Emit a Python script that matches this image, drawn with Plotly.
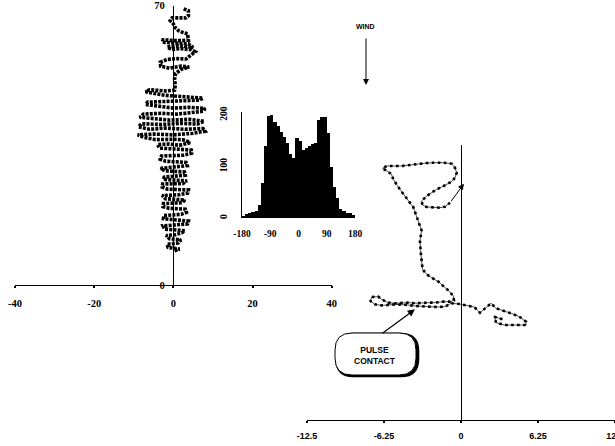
import plotly.graph_objects as go

W, H = 615, 446

# ---------------- data ----------------
# Left panel: flight track (x, y)
left_x = [0.3, 1.6, -1.3, -1.6, 1.2, 1.9, -1.0, -1.8, 0.5, 2.2,
          2.9, -2.2, -2.6, 1.0, 3.6, 3.8, -0.5, -2.5, -2.4, 2.0, 3.3,
          3.0, -1.0, -2.6, -2.5, 2.2, 2.9, -2.0, -2.8, 1.5, 3.6,
          3.8, -1.5, -2.8, -2.7, 2.4, 3.4, -2.0,
          -2.6, 0.5, 3.0, 2.8, -2.2, -3.2,
          1.0, 3.5, 3.2, -2.0, -3.3, -3.0, 2.5, 4.6, 4.5, -1.0, -3.5,
          -4.0, -1.0, 1.5, 4.2, 3.0, 0.0, -4.5,
          -7.5, -9.0, -5.0, 0.0, 5.0, 8.0, 7.5, 3.0, -2.0, -6.0, -8.8, -8.0, -3.0, 2.0, 6.0, 7.8, 4.0, -1.0, -5.5, -8.5,
          -7.5, -3.0, 1.0, 5.0, 7.5, 8.0, 4.0, 0.0, -4.0, -7.0, -6.5, -2.0, 2.5, 6.5, 7.5,
          3.0, -2.0, -5.0, -7.0, -6.0, -2.0, 0.3,
          0.5, 0.3, 0.6,
          2.0, 4.0, 2.0, -1.0, -3.2, -3.3, -1.5, 1.0, 3.2,
          4.5, 5.5, 4.5, 2.0, -0.5, -1.5, 1.0, 3.5, 5.0,
          3.8, 1.0, -2.8, -2.6, 1.0, 3.8,
          3.8, 3.6, 2.5, 1.3, 0.5, 0.0, -0.8, -0.3, 1.8, 3.1, 3.8, 3.8, 2.5]
left_y = [8.6, 9.0, 9.4, 10.2, 10.5, 11.3, 11.6, 12.4, 12.6, 13.1,
          13.6, 14.0, 14.8, 15.0, 15.3, 16.0, 16.3, 16.6, 17.4, 17.7, 18.2,
          19.0, 19.2, 19.6, 20.4, 20.6, 21.3, 21.6, 22.4, 22.6, 23.0,
          23.8, 24.0, 24.5, 25.3, 25.4, 26.1, 26.4,
          27.0, 27.2, 27.5, 28.3, 28.6, 29.2,
          29.5, 29.9, 30.7, 31.0, 31.5, 32.3, 32.5, 33.0, 33.8, 34.0, 34.3,
          35.2, 35.3, 35.0, 35.6, 36.3, 36.5, 36.4,
          37.0, 37.6, 37.8, 37.6, 38.0, 38.5, 39.2, 39.0, 39.3, 39.0, 39.6, 40.4, 40.2, 40.5, 40.3, 41.0, 41.5, 41.3, 41.8, 42.0,
          42.8, 43.0, 42.8, 43.2, 43.5, 44.2, 44.5, 44.3, 44.8, 45.2, 45.8, 46.0, 46.2, 46.3, 46.8,
          47.2, 47.5, 48.0, 48.4, 48.9, 48.6, 48.8,
          50.0, 51.5, 53.0,
          54.0, 54.6, 54.8, 54.3, 54.8, 55.8, 56.5, 56.7, 56.6,
          57.6, 58.4, 58.9, 59.2, 59.0, 59.6, 60.0, 59.8, 59.5,
          60.4, 60.6, 60.8, 61.4, 61.2, 61.3,
          61.9, 62.9, 63.2, 63.7, 64.4, 65.4, 66.2, 66.9, 66.9, 66.9, 67.4, 68.7, 69.2]

left_xticks = [-40, -20, 0, 20, 40]
left_yticks = [0, 70]

# Inset: heading histogram (10 degree bins)
hist_centers = [-175, -165, -155, -145, -135, -125, -115, -105, -95, -85,
                -75, -65, -55, -45, -35, -25, -15, -5, 5, 15,
                25, 35, 45, 55, 65, 75, 85, 95, 105, 115,
                125, 135, 145, 155, 165, 175]
hist_counts = [3, 8, 10, 12, 13, 26, 68, 140, 198, 200,
               187, 178, 168, 158, 145, 125, 116, 155, 150, 132,
               136, 139, 143, 145, 190, 197, 197, 165, 100, 60,
               38, 18, 13, 10, 9, 6]
hist_xticks = [-180, -90, 0, 90, 180]
hist_yticks = [0, 100, 200]

# Right panel: flight track (x, y)
right_x = [3.36, 2.71, 2.85, 3.52, 4.17, 4.80, 5.28, 5.28, 4.74, 4.07, 3.36, 2.85, 2.44, 2.03, 1.54, 1.08, 0.67, -0.14, -0.81,
           -1.30, -1.98, -2.66, -3.20, -3.74, -4.28, -4.82, -5.37, -5.91, -6.45, -6.99, -7.34, -7.26, -6.72, -6.45,
           -5.91, -5.37, -4.82, -4.28, -3.74, -3.20, -2.66, -2.11, -1.44, -0.89, -0.57, -0.62, -1.03, -1.44, -1.84,
           -2.38, -2.79, -3.12, -3.20, -3.25, -3.28, -3.33, -3.25, -3.20, -3.33, -3.47, -3.60, -3.74, -3.88, -4.15,
           -4.42, -4.69, -4.96, -5.23, -5.50, -5.64, -5.91, -6.37, -6.04, -5.50, -4.82, -4.15, -3.47, -2.79, -2.11,
           -1.44, -0.76, -0.49, -0.35, -0.49, -0.76, -1.11, -1.57, -1.98, -2.38, -2.79, -3.20, -3.12, -2.79, -2.25,
           -1.71, -1.30, -0.89]
right_y = [8.19, 8.40, 7.91, 7.72, 7.72, 7.70, 7.72, 7.99, 8.40, 8.67, 8.94, 9.08, 9.49, 9.16, 8.72, 9.19, 9.27, 9.43, 9.49,
           9.21, 9.19, 9.21, 9.21, 9.27, 9.35, 9.40, 9.40, 9.35, 9.32, 9.40, 9.67, 10.00, 10.03, 9.81,
           9.54, 9.49, 9.54, 9.54, 9.49, 9.54, 9.54, 9.54, 9.62, 9.62, 9.73, 10.08, 10.54, 10.89, 11.25,
           11.57, 11.84, 12.25, 12.79, 13.47, 13.88, 14.55, 15.09, 15.42, 15.77, 16.18, 16.59, 16.99, 17.32, 17.67,
           18.02, 18.35, 18.75, 19.16, 19.57, 19.97, 20.19, 20.46, 20.65, 20.65, 20.65, 20.73, 20.84, 20.89, 20.92,
           20.92, 20.84, 20.51, 20.11, 19.70, 19.38, 19.16, 18.94, 18.75, 18.48, 18.21, 17.80, 17.48, 17.32, 17.26,
           17.26, 17.34, 17.67]
end_arrow_head = (0.24, 19.21)
pulse_contact_point = (-3.74, 9.0)

right_xticks = [-12.5, -6.25, 0, 6.25, 12.5]
right_xticklabels = ["-12.5", "-6.25", "0", "6.25", "12.5"]

# ---------------- helpers ----------------
def px(x):
    return x / W

def py(y):
    return 1 - y / H

serif = dict(family="Liberation Serif, Times New Roman, serif", size=10.5, color="black", weight="bold")
sans = dict(family="Liberation Sans, Arial, sans-serif", size=9, color="black", weight="bold")

fig = go.Figure()

# left track
fig.add_trace(go.Scatter(x=left_x, y=left_y, mode="lines", xaxis="x", yaxis="y",
                         line=dict(color="black", width=3.6, dash="3px,1.2px"), hoverinfo="skip"))

# inset histogram
fig.add_trace(go.Bar(x=hist_centers, y=hist_counts, width=10, xaxis="x2", yaxis="y2",
                     marker=dict(color="black", line=dict(width=0)), hoverinfo="skip"))

# right track: thin line + dots
fig.add_trace(go.Scatter(x=right_x, y=right_y, mode="lines", xaxis="x3", yaxis="y3",
                         line=dict(color="black", width=0.7), hoverinfo="skip"))
fig.add_trace(go.Scatter(x=right_x, y=right_y, mode="lines", xaxis="x3", yaxis="y3",
                         line=dict(color="black", width=2.6, dash="2.6px,3.4px"), hoverinfo="skip"))

fig.update_layout(
    width=W, height=H, autosize=False,
    margin=dict(l=0, r=0, t=0, b=0, pad=0, autoexpand=False),
    paper_bgcolor="white", plot_bgcolor="rgba(0,0,0,0)",
    showlegend=False, bargap=0,
    xaxis=dict(domain=[px(15), px(331.7)], range=[-40, 40], anchor="y", automargin=False,
               showline=True, linecolor="black", linewidth=1.2,
               ticks="outside", ticklen=2, tickwidth=2, tickcolor="black",
               tickvals=left_xticks, ticktext=[str(v) for v in left_xticks],
               showgrid=False, zeroline=True, zerolinecolor="black", zerolinewidth=1.3,
               tickfont=serif, ticklabelstandoff=6, ticklabeloverflow="allow", fixedrange=True),
    yaxis=dict(domain=[py(285), py(5.5)], range=[0, 70], anchor="free", position=px(172.7),
               automargin=False,
               showline=False, showgrid=False, zeroline=False, ticks="",
               tickvals=left_yticks, ticktext=[str(v) for v in left_yticks],
               tickfont=serif, ticklabelstandoff=8, ticklabeloverflow="allow", fixedrange=True),
    xaxis2=dict(domain=[px(242), px(355)], range=[-180, 180], anchor="y2", automargin=False,
                showline=False, showgrid=False, zeroline=False, ticks="",
                tickvals=hist_xticks, ticktext=[str(v) for v in hist_xticks],
                tickfont=dict(serif, size=9.5), ticklabelstandoff=8, fixedrange=True),
    yaxis2=dict(domain=[py(218), py(112)], range=[0, 206], anchor="x2", automargin=False,
                showline=True, linecolor="black", linewidth=1, ticks="",
                showgrid=False, zeroline=False,
                tickvals=hist_yticks, ticktext=[str(v) for v in hist_yticks], tickangle=-90,
                tickfont=dict(serif, size=9.5), ticklabelstandoff=10, fixedrange=True),
    xaxis3=dict(domain=[px(307), 1.0], range=[-12.5, 12.5], anchor="y3", automargin=False,
                showline=True, linecolor="black", linewidth=1.2,
                ticks="outside", ticklen=2, tickwidth=2, tickcolor="black",
                tickvals=right_xticks, ticktext=right_xticklabels,
                showgrid=False, zeroline=True, zerolinecolor="black", zerolinewidth=1.2,
                tickfont=sans, ticklabelstandoff=5, ticklabeloverflow="allow", fixedrange=True),
    yaxis3=dict(domain=[py(420), py(145)], range=[0, 275 / 12.3], anchor="x3", automargin=False,
                showline=False, showgrid=False, zeroline=False, ticks="",
                showticklabels=False, fixedrange=True),
)

# end-of-track arrow (right panel)
fig.add_annotation(x=end_arrow_head[0], y=end_arrow_head[1], xref="x3", yref="y3",
                   ax=right_x[-1], ay=right_y[-1], axref="x3", ayref="y3",
                   text="", showarrow=True, arrowhead=2, arrowsize=1.2, arrowwidth=1,
                   arrowcolor="black")

# pulse contact arrow
fig.add_annotation(x=pulse_contact_point[0], y=pulse_contact_point[1], xref="x3", yref="y3",
                   ax=-34, ay=25, text="", showarrow=True, arrowhead=2, arrowsize=1.2,
                   arrowwidth=1.2, arrowcolor="black")

# rounded box
def rrect(x0, y0, x1, y1, r):
    pts = []
    pts.append(f"M {px(x0 + r)},{py(y0)}")
    pts.append(f"L {px(x1 - r)},{py(y0)}")
    pts.append(f"Q {px(x1)},{py(y0)} {px(x1)},{py(y0 + r)}")
    pts.append(f"L {px(x1)},{py(y1 - r)}")
    pts.append(f"Q {px(x1)},{py(y1)} {px(x1 - r)},{py(y1)}")
    pts.append(f"L {px(x0 + r)},{py(y1)}")
    pts.append(f"Q {px(x0)},{py(y1)} {px(x0)},{py(y1 - r)}")
    pts.append(f"L {px(x0)},{py(y0 + r)}")
    pts.append(f"Q {px(x0)},{py(y0)} {px(x0 + r)},{py(y0)} Z")
    return " ".join(pts)

fig.add_shape(type="path", xref="paper", yref="paper", path=rrect(336.5, 334, 418, 376, 17),
              line=dict(color="black", width=2.6), fillcolor="black")
fig.add_shape(type="path", xref="paper", yref="paper", path=rrect(335, 333, 416, 375, 17),
              line=dict(color="black", width=1), fillcolor="white")
fig.add_annotation(x=px(375), y=py(355.5), xref="paper", yref="paper",
                   xanchor="center", yanchor="middle",
                   text="PULSE<br>CONTACT", showarrow=False,
                   font=dict(family="Liberation Sans, Arial, sans-serif", size=8.5, color="black", weight="bold"))

# wind arrow
fig.add_annotation(x=px(365), y=py(27), xref="paper", yref="paper", text="WIND", showarrow=False,
                   xanchor="center", yanchor="middle",
                   font=dict(family="Liberation Sans, Arial, sans-serif", size=7, color="black", weight="bold"))
fig.add_annotation(x=px(366), y=py(85), xref="paper", yref="paper", ax=0, ay=-48,
                   text="", showarrow=True, arrowhead=2, arrowsize=1.2, arrowwidth=1,
                   arrowcolor="black")

# remove the page's default body margin so the figure sits at the window's top-left corner
fig.write_html("out.html", config={"displayModeBar": False},
               post_script="document.body.style.margin='0';")
